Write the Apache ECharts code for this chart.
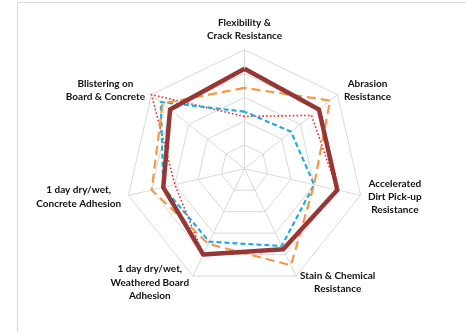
<!DOCTYPE html>
<html><head><meta charset="utf-8">
<script src="https://cdn.jsdelivr.net/npm/echarts@6/dist/echarts.min.js"></script>
<style>html,body{margin:0;padding:0;background:#fff}#c{width:466px;height:332px}</style>
</head><body><div id="c"></div>
<script>
// Indicators in clockwise order starting at the top
const categories = ['Flexibility &\nCrack Resistance', 'Abrasion\nResistance', 'Accelerated\nDirt Pick-up\nResistance', 'Stain & Chemical\nResistance', '1 day dry/wet,\nWeathered Board\nAdhesion', '1 day dry/wet,\nConcrete Adhesion', 'Blistering on\nBoard & Concrete'];
const maxValue = 5;
const seriesBrown  = [4.2, 4.0, 4.0, 3.75, 4.0, 3.5, 4.0];
const seriesOrange = [3.4, 4.6, 3.0, 4.5, 3.5, 4.0, 4.4];
const seriesBlue   = [2.4, 2.5, 3.0, 3.6, 3.4, 3.5, 4.5];
const seriesRed    = [2.2, 3.6, 4.0, 3.75, 4.0, 3.0, 5.0];

// ECharts radar runs counter-clockwise, so reorder: top, then going left
const order = [0, 6, 5, 4, 3, 2, 1];
const ro = arr => order.map(i => arr[i]);

const FS = 10;
const TXT = '#111111';
const ctx = document.createElement('canvas').getContext('2d');
ctx.font = 'bold ' + FS + 'px Lato';
const rich = {};
function fmt(name) {
  const lines = name.split('\n');
  const w = Math.ceil(Math.max(...lines.map(l => ctx.measureText(l).width))) + 1;
  const key = 'c' + w;
  if (!rich[key]) rich[key] = {width: w, align: 'center', fontFamily: 'Lato', fontWeight: 'bold', fontSize: FS, color: TXT, lineHeight: 13.3};
  return lines.map(l => '{' + key + '|' + l + '}').join('\n');
}
const names = ro(categories);
const formatted = {};
names.forEach(n => { formatted[n] = fmt(n); });

const chart = echarts.init(document.getElementById('c'), null, {renderer: 'canvas'});
chart.setOption({
  animation: false,
  graphic: [{type: 'polyline', shape: {points: [[17.5, 340], [17.5, 2.5], [470, 2.5]]}, style: {stroke: '#d9d9d9', lineWidth: 1, fill: null}, silent: true}],
  radar: {
    center: [244.5, 168.8],
    radius: 119,
    startAngle: 90,
    splitNumber: 5,
    shape: 'polygon',
    axisNameGap: 7,
    indicator: names.map(n => ({name: n, max: maxValue, min: 0})),
    axisName: {formatter: (v) => formatted[v], rich: rich, color: TXT, fontFamily: 'Lato', fontWeight: 'bold', fontSize: FS},
    splitLine: {lineStyle: {color: '#d9d9d9', width: 1}},
    splitArea: {show: false},
    axisLine: {lineStyle: {color: '#d9d9d9', width: 1}},
    axisTick: {show: false},
    axisLabel: {show: false}
  },
  series: [{
    type: 'radar',
    symbol: 'none',
    data: [
      {value: ro(seriesRed), lineStyle: {color: '#ee2a2a', width: 1.6, type: [1.6, 2.2]}},
      {value: ro(seriesBlue), lineStyle: {color: '#22aae2', width: 2.2, type: [5, 3]}},
      {value: ro(seriesOrange), lineStyle: {color: '#f79646', width: 2.2, type: [9, 5]}},
      {value: ro(seriesBrown), lineStyle: {color: '#953735', width: 4.5}}
    ]
  }]
});
</script></body></html>
